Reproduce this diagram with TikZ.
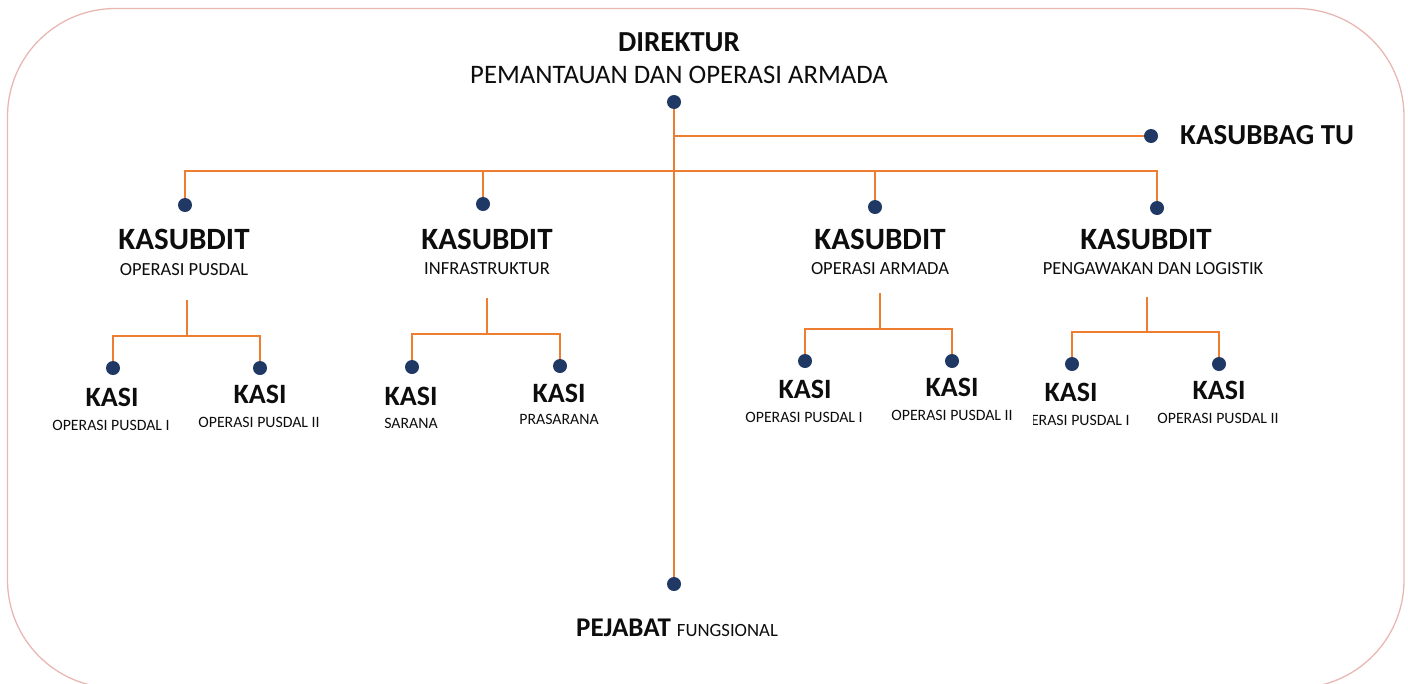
\documentclass[tikz,border=0pt]{standalone}
\usepackage{fontspec}
\setmainfont{Carlito}
\definecolor{OrgLine}{HTML}{ED7D31}
\definecolor{OrgDot}{HTML}{1F3864}
\definecolor{OrgFrame}{HTML}{E9B7B2}
\definecolor{OrgText}{HTML}{0D0D0D}
\usetikzlibrary{positioning, calc}
\tikzset{
    % frame round the chart
    frame/.style={
        draw=OrgFrame,
        line width=1.3pt,
        rounded corners=108pt
    },
    % post dots
    post dot/.style={
        circle,
        fill=OrgDot,
        inner sep=0pt,
        minimum size=14pt
    },
    % connectors
    link/.style={
        draw=OrgLine,
        line width=1.5pt
    },
    % labels
    head label/.style={
        inner sep=0pt,
        text=OrgText,
        font=\fontsize{31}{33}\selectfont\bfseries
    },
    head sub/.style={
        inner sep=0pt,
        text=OrgText,
        font=\fontsize{18.5}{20}\selectfont
    },
    kasi label/.style={
        inner sep=0pt,
        text=OrgText,
        font=\fontsize{28}{30}\selectfont\bfseries
    },
    kasi sub/.style={
        inner sep=0pt,
        text=OrgText,
        font=\fontsize{15.8}{17}\selectfont
    }
}
\begin{document}
\begin{tikzpicture}[x=1pt, y=-1pt]
    \useasboundingbox (0,0) rectangle (1408,683);
    \draw[frame] (7.5,8.5) rectangle (1404,688);

    % direktur
    \node[inner sep=0pt, text=OrgText, font=\fontsize{29}{31}\selectfont\bfseries] (dirtitle) at (679,42) {DIREKTUR};
    \node[inner sep=0pt, text=OrgText, font=\fontsize{26.7}{28}\selectfont] (dirsub) at (679,75) {PEMANTAUAN DAN OPERASI ARMADA};
    \node[post dot] (dir) at (674,102) {};

    % kasubbag tu
    \node[post dot] (tu) at (1151,136) {};
    \node[inner sep=0pt, text=OrgText, font=\fontsize{29}{31}\selectfont\bfseries, anchor=west] (tulabel) at (1180,135) {KASUBBAG TU};

    % pejabat fungsional
    \node[post dot] (pej) at (674,584) {};
    \node[inner sep=0pt, text=OrgText, anchor=base] (pejlabel) at (677,636)
        {\fontsize{27}{29}\selectfont\bfseries PEJABAT \fontsize{18.7}{20}\mdseries\selectfont FUNGSIONAL};

    % kasubdit
    \node[post dot] (ksd1) at (185,205) {};
    \node[post dot] (ksd2) at (483,204) {};
    \node[post dot] (ksd3) at (875,207) {};
    \node[post dot] (ksd4) at (1157,208) {};
    \node[head label] (ksd1title) at (184,239) {KASUBDIT};
    \node[head sub] (ksd1sub) at (184,270) {OPERASI PUSDAL};
    \node[head label] (ksd2title) at (487,239) {KASUBDIT};
    \node[head sub] (ksd2sub) at (487,269) {INFRASTRUKTUR};
    \node[head label] (ksd3title) at (880,239) {KASUBDIT};
    \node[head sub] (ksd3sub) at (880,269) {OPERASI ARMADA};
    \node[head label] (ksd4title) at (1146,239) {KASUBDIT};
    \node[head sub] (ksd4sub) at (1153,269) {PENGAWAKAN DAN LOGISTIK};

    % kasi
    \node[post dot] (kasi11) at (113,368) {};
    \node[post dot] (kasi12) at (260,368) {};
    \node[kasi label] (kasi11title) at (112,397) {KASI};
    \node[kasi sub] (kasi11sub) at (111,425) {OPERASI PUSDAL I};
    \node[kasi label] (kasi12title) at (260,394) {KASI};
    \node[kasi sub] (kasi12sub) at (259,422) {OPERASI PUSDAL II};

    \node[post dot] (kasi21) at (412,367) {};
    \node[post dot] (kasi22) at (560,366) {};
    \node[kasi label] (kasi21title) at (411,396) {KASI};
    \node[kasi sub] (kasi21sub) at (411,423) {SARANA};
    \node[kasi label] (kasi22title) at (559,393) {KASI};
    \node[kasi sub] (kasi22sub) at (559,419) {PRASARANA};

    \node[post dot] (kasi31) at (805,361) {};
    \node[post dot] (kasi32) at (952,361) {};
    \node[kasi label] (kasi31title) at (805,389) {KASI};
    \node[kasi sub] (kasi31sub) at (804,417) {OPERASI PUSDAL I};
    \node[kasi label] (kasi32title) at (952,387) {KASI};
    \node[kasi sub] (kasi32sub) at (952,415) {OPERASI PUSDAL II};

    \node[post dot] (kasi41) at (1072,364) {};
    \node[post dot] (kasi42) at (1219,364) {};
    \node[kasi label] (kasi41title) at (1071,392) {KASI};
    \begin{scope}
        \clip (1033,400) rectangle (1140,440);
        \node[kasi sub] (kasi41sub) at (1071,420) {OPERASI PUSDAL I};
    \end{scope}
    \node[kasi label] (kasi42title) at (1219,390) {KASI};
    \node[kasi sub] (kasi42sub) at (1218,418) {OPERASI PUSDAL II};

    % connectors
    \coordinate (bus) at (674,171);
    \draw[link] (dir) -- (pej);
    \draw[link] (tu) -- (tu -| dir);
    \draw[link] (ksd1) |- (bus) -| (ksd4);
    \draw[link] (ksd2) -- (ksd2 |- bus);
    \draw[link] (ksd3) -- (ksd3 |- bus);

    \coordinate (stem1) at (187,300);
    \coordinate (fork1) at (187,336);
    \draw[link] (stem1) -- (fork1);
    \draw[link] (kasi11) |- (fork1) -| (kasi12);

    \coordinate (stem2) at (487,298);
    \coordinate (fork2) at (487,334);
    \draw[link] (stem2) -- (fork2);
    \draw[link] (kasi21) |- (fork2) -| (kasi22);

    \coordinate (stem3) at (880,293);
    \coordinate (fork3) at (880,329);
    \draw[link] (stem3) -- (fork3);
    \draw[link] (kasi31) |- (fork3) -| (kasi32);

    \coordinate (stem4) at (1147,297);
    \coordinate (fork4) at (1147,332);
    \draw[link] (stem4) -- (fork4);
    \draw[link] (kasi41) |- (fork4) -| (kasi42);
\end{tikzpicture}
\end{document}
